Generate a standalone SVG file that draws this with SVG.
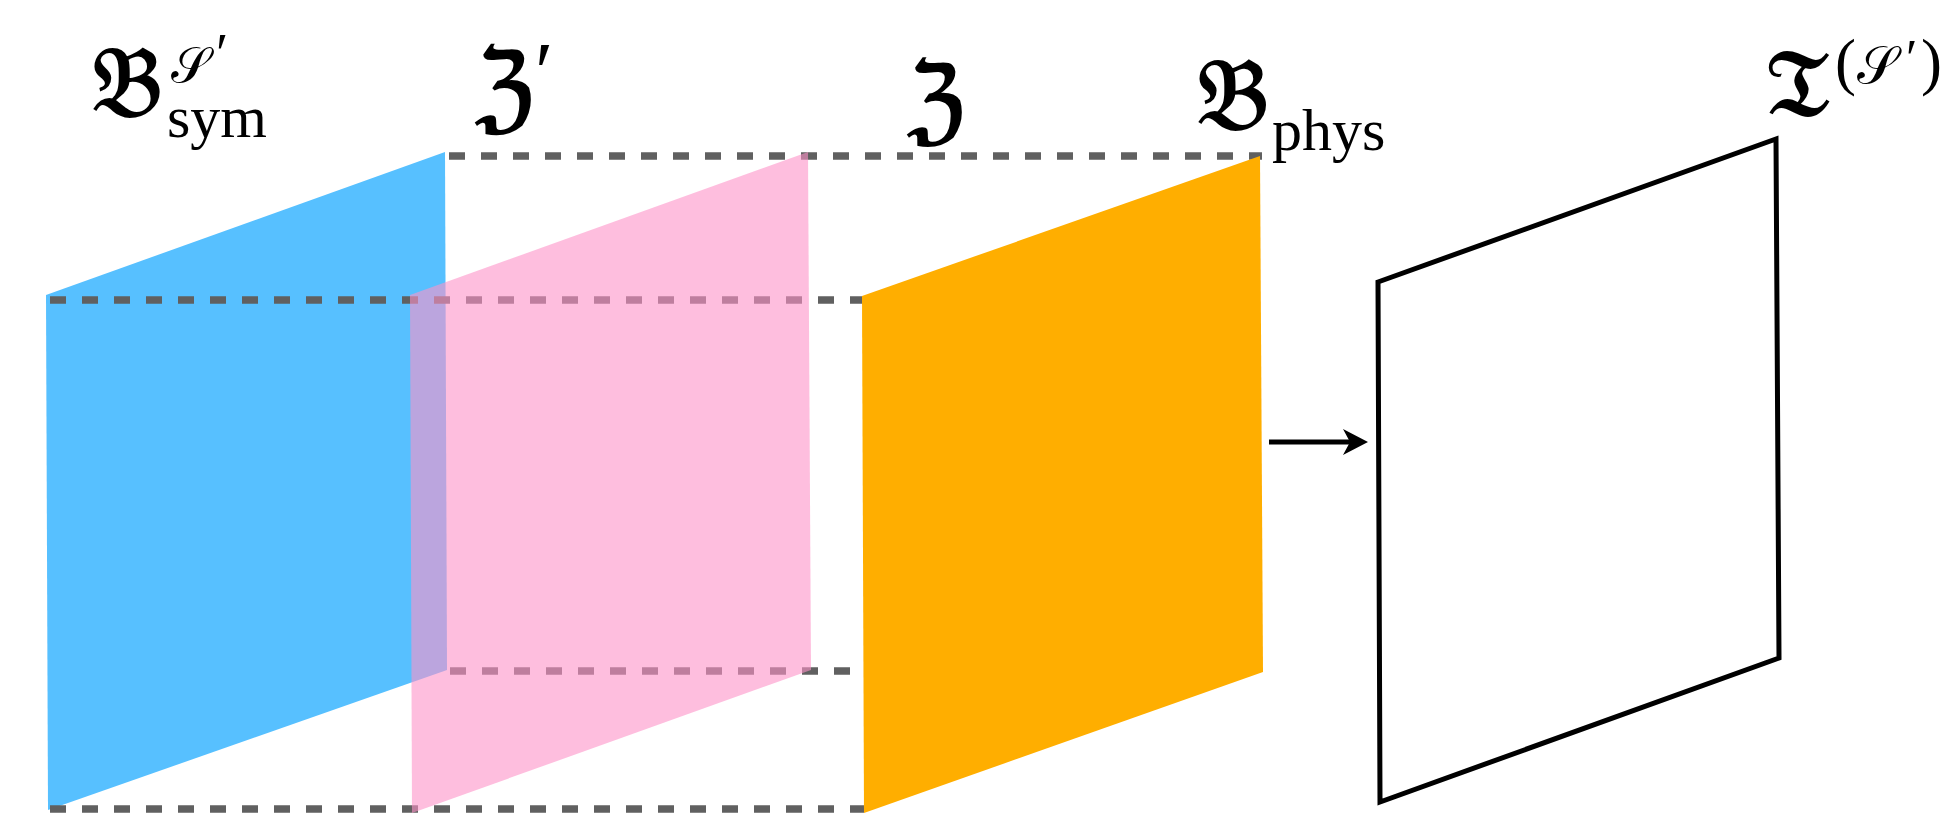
<svg xmlns="http://www.w3.org/2000/svg" width="1957" height="813" viewBox="0 0 1957 813">
<style>
.dash{stroke:#606060;stroke-width:7.5;stroke-dasharray:16 16;fill:none}
.frak{font-family:"DejaVu Serif","DejaVu Sans","Liberation Serif",serif;fill:#000;stroke:#000;stroke-width:2}
.scr{font-family:"DejaVu Serif","DejaVu Sans","Liberation Serif",serif;fill:#000}
.rm{font-family:"Liberation Serif","Times New Roman",serif;fill:#000}
</style>
<defs>
<marker id="ah" viewBox="0 0 26 26" refX="7" refY="13" markerWidth="26" markerHeight="26" markerUnits="userSpaceOnUse" orient="auto">
<path d="M25,13 L0,0 L7,13 L0,26 Z" fill="#000"/>
</marker>
</defs>
<g id="blue-panel"><polygon points="46,295 445,152 447,670 48,810" fill="#57C0FF"/></g>
<g id="connectors">
<line class="dash" x1="449" y1="156" x2="1262" y2="156"/>
<line class="dash" x1="50" y1="300" x2="862" y2="300"/>
<line class="dash" x1="450" y1="671" x2="864" y2="671"/>
<line class="dash" x1="50" y1="809" x2="864" y2="809"/>
<line x1="1269" y1="442" x2="1350" y2="442" stroke="#000" stroke-width="5" marker-end="url(#ah)"/>
</g>
<g id="pink-panel"><polygon points="410,295 808,152 811,670 412,813" fill="rgb(253,147,200)" fill-opacity="0.6"/></g>
<g id="orange-panel"><polygon points="862,296 1260,156 1263,672 864,813" fill="#FFAE00"/></g>
<g id="output-panel"><polygon points="1378,282 1776,139 1779,658 1380,802" fill="none" stroke="#000" stroke-width="5"/></g>
<g id="label-bsym">
<text class="frak" x="92" y="116" font-size="98">𝔅</text>
<text class="rm" x="167" y="137" font-size="60">sym</text>
<text class="scr" x="171" y="82" font-size="50">𝒮</text>
<text class="rm" x="216" y="73" font-size="56">′</text>
</g>
<g id="label-zprime">
<text class="frak" x="475" y="120" font-size="96">ℨ</text>
<text class="rm" x="535" y="101" font-size="84">′</text>
</g>
<g id="label-z">
<text class="frak" x="907" y="132" font-size="94">ℨ</text>
</g>
<g id="label-bphys">
<text class="frak" x="1197" y="129" font-size="100">𝔅</text>
<text class="rm" x="1272" y="150" font-size="60">phys</text>
</g>
<g id="label-t">
<text class="frak" x="1766" y="116" font-size="95">𝔗</text>
<text class="rm" x="1835" y="83" font-size="63">(</text>
<text class="scr" x="1857" y="83" font-size="52">𝒮</text>
<text class="rm" x="1906" y="76" font-size="52">′</text>
<text class="rm" x="1921" y="83" font-size="63">)</text>
</g>
</svg>
